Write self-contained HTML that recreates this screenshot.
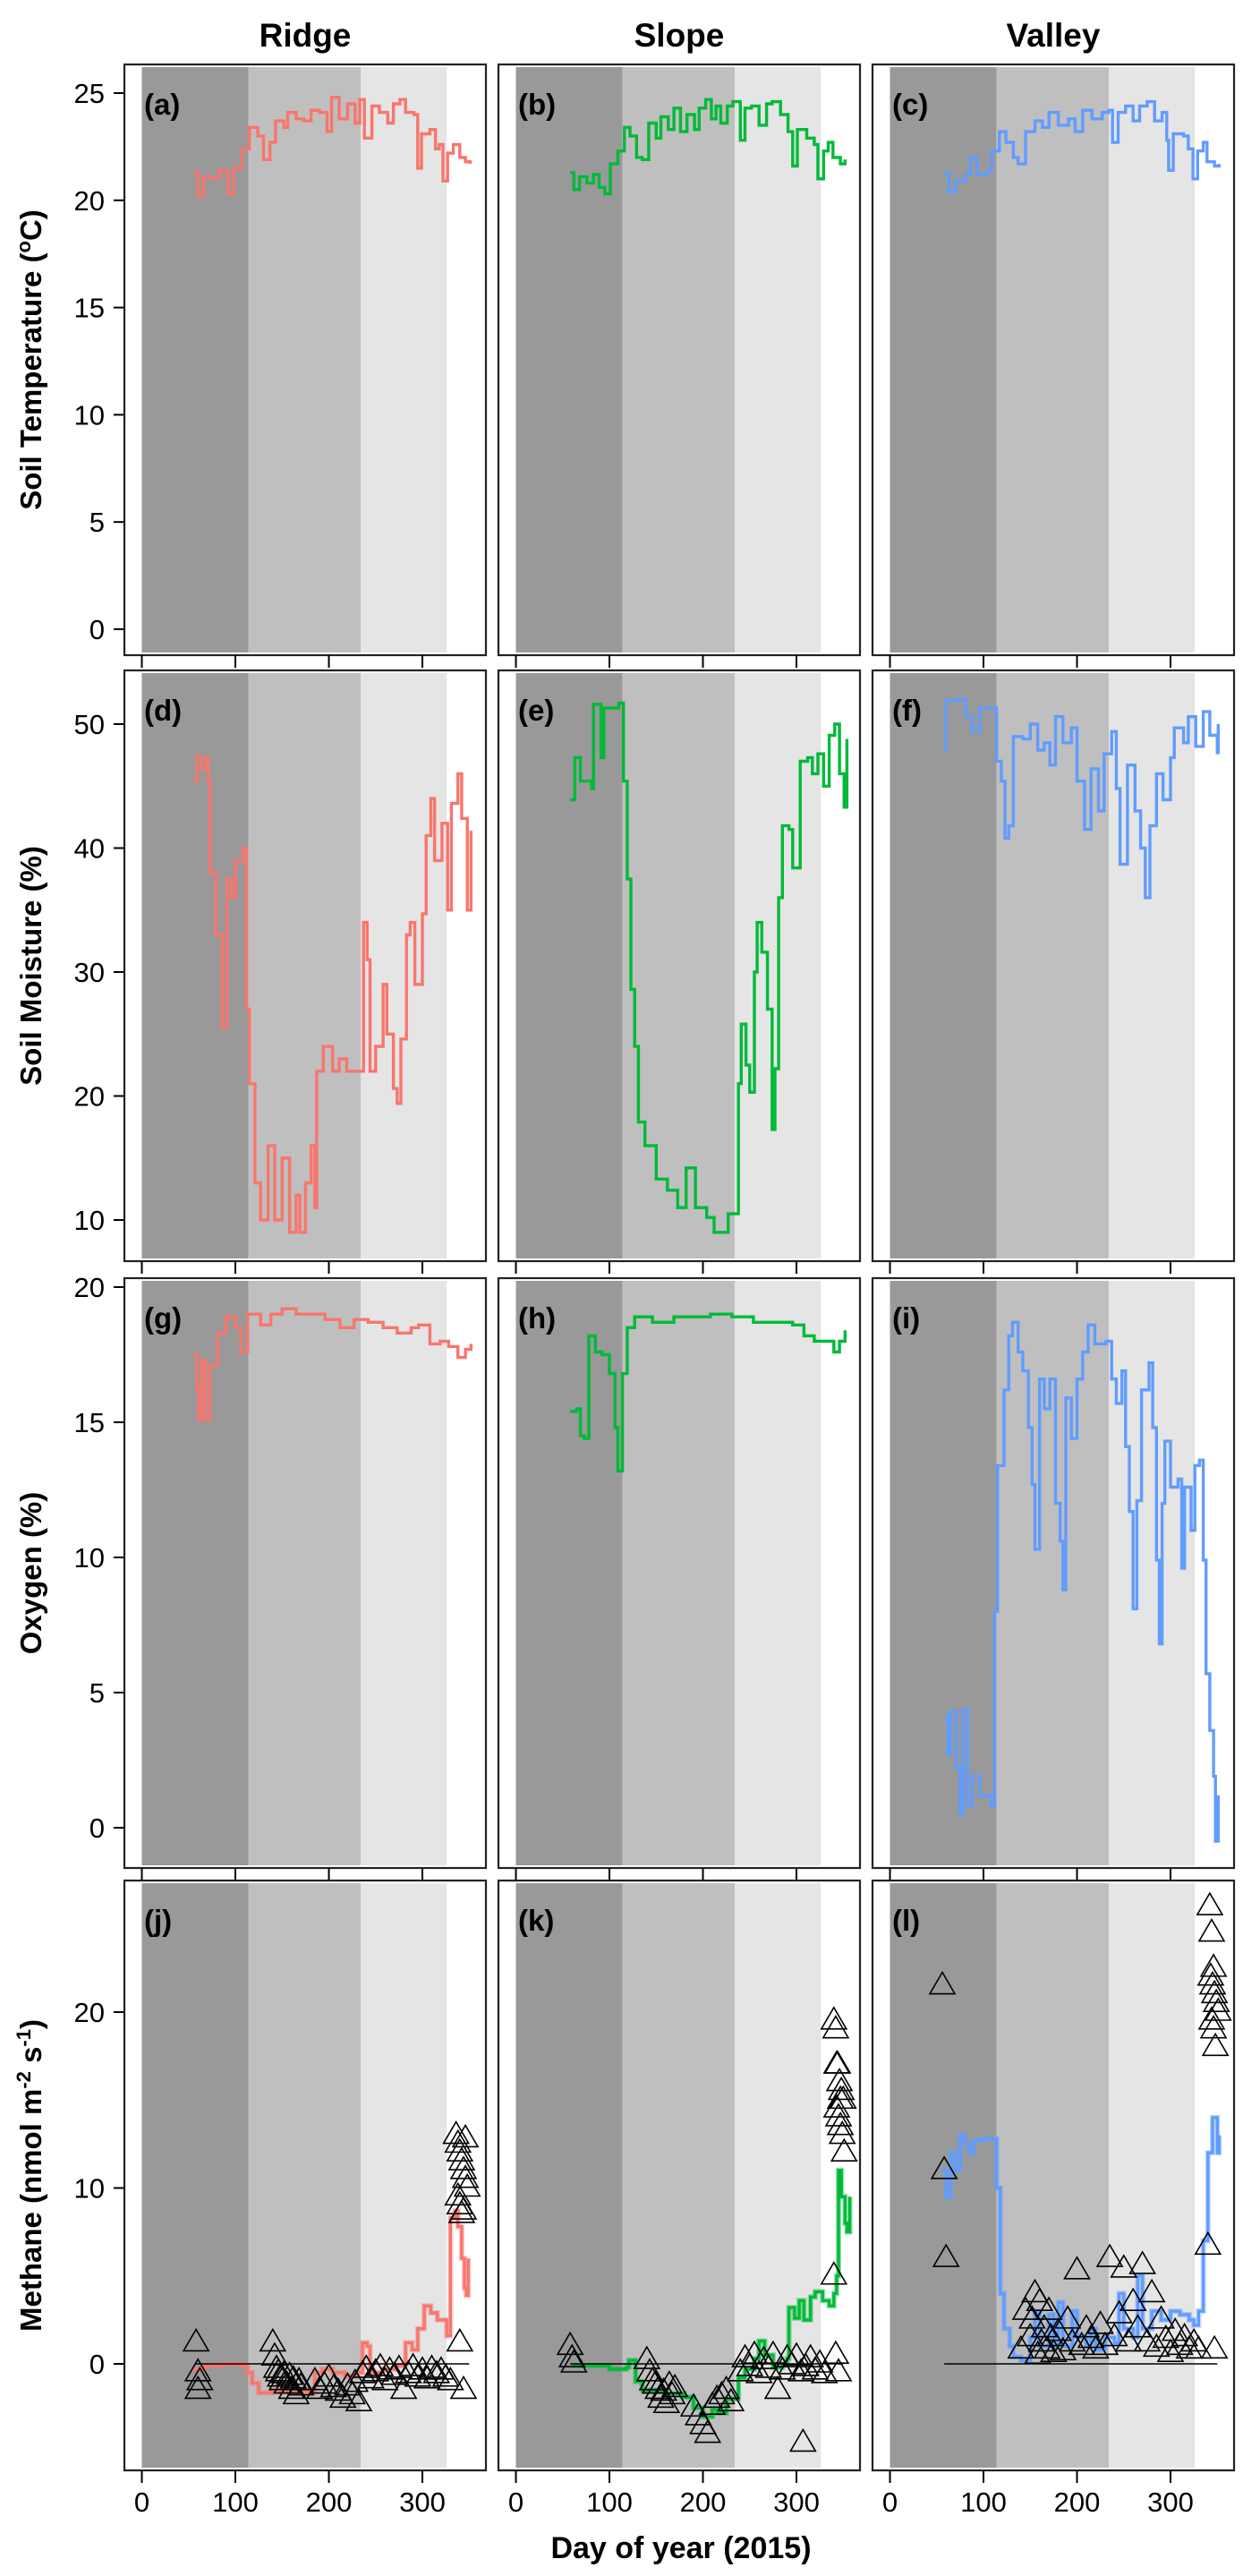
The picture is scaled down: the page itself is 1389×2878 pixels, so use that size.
<!DOCTYPE html>
<html><head><meta charset="utf-8">
<style>
html,body{margin:0;padding:0;background:#fff;}
svg{display:block;font-family:"Liberation Sans",Arial,sans-serif;}
</style></head>
<body>
<svg id="fig" width="1389" height="2878" viewBox="0 0 1389 2878" xmlns="http://www.w3.org/2000/svg"></svg>
<script>
// ---------- DATA ----------
const colTitles = ["Ridge","Slope","Valley"];
const rowTitles = ["Soil Temperature (\u00B0C)","Soil Moisture (%)","Oxygen (%)","Methane (nmol m-2 s-1)"];
const panelLetters = ["a","b","c","d","e","f","g","h","i","j","k","l"];
const xTicks = [0,100,200,300];
const seasonBreaks = [0,114,234,326];
const yTicksTemp = [0,5,10,15,20,25];
const yTicksMoist = [10,20,30,40,50];
const yTicksOxy = [0,5,10,15,20];
const yTicksMeth = [0,10,20];

// Temperature
const tempDayR = [55,60,66,75,83,92,98,107,115,124,130,137,143,152,156,165,173,181,190,198,203,211,220,228,233,238,246,254,263,269,276,282,291,295,299,308,314,318,322,327,333,340,346,351];
const tempValR = [21.3,20.2,21.1,21,21.4,20.3,21.5,22.4,23.4,23,21.9,22.7,23.7,23.4,24.1,23.8,23.7,24.2,24.1,23.2,24.8,23.8,24.5,23.6,24.7,22.9,24.4,24.1,23.6,24.5,24.7,24.1,24,21.5,23.1,23.3,22.4,22.6,20.9,22.2,22.6,22,21.8,21.7];
const tempDayS = [58,62,68,76,83,89,95,101,109,116,122,129,135,142,150,155,163,169,176,183,191,196,203,209,214,219,226,232,240,245,252,260,268,274,283,291,296,301,311,319,323,329,334,339,347,352];
const tempValS = [21.3,20.5,21.1,20.8,21.2,20.6,20.3,21.7,22.3,23.4,23,22,21.9,23.6,22.9,23.9,23.3,24.3,23.2,24,23.3,24.3,24.7,23.8,24.4,23.6,24.4,24.6,22.8,24.3,24.4,23.5,24.5,24.6,24,23.2,21.6,23.3,22.9,22.6,21,22.3,22.7,22,21.7,21.9];
const tempDayV = [57,63,70,81,86,93,104,109,117,124,132,137,145,155,163,170,180,191,198,206,216,227,234,238,244,252,260,267,275,283,291,296,298,303,314,319,324,329,335,339,347,352];
const tempValV = [21.3,20.4,20.9,21.2,22,21.2,21.4,22.3,23.2,22.7,22,21.7,23.2,23.7,23.4,24.1,23.5,23.8,23.2,24.2,23.8,24.1,24.2,22.7,24.1,24.4,23.7,24.4,24.6,23.7,24.1,22.8,21.4,23.1,23,22.4,21,22.3,22.7,21.8,21.6,21.7];

// Moisture
const moistDayR = [55,59,64,69,71,73,79,86,91,96,100,108,112,115,121,127,135,142,150,158,165,169,175,181,185,187,194,204,211,219,231,237,241,244,250,258,262,269,273,277,283,287,292,300,304,309,313,321,327,331,338,342,348,352];
const moistValR = [45.4,47.4,46.4,47.3,45.4,38,33,25.5,37.5,36,39,40,27,21,13,10,16,10,15,9,12,9,13,16,11,22,24,22,23,22,22,34,31,22,24,29,25,20.6,19.4,24.6,33,34,29,34.7,41,44,39,42,35,43.6,46,42.4,35,41.4];
const moistDayS = [58,63,69,81,83,91,94,110,115,119,123,127,131,138,150,162,173,182,192,204,212,227,235,238,241,246,250,255,258,263,269,274,277,281,285,292,296,304,312,317,323,329,335,341,346,351,354];
const moistValS = [43.9,47.3,45.4,44.8,51.6,47.3,51.3,51.7,45.4,37.5,28.6,24,17.9,16,13.3,12.4,11,14.2,11,10.2,9,10.5,10.5,21,25.8,22.5,20.3,30,34,31.6,27,17.3,22.2,36,41.8,41.5,38.4,47,47.3,46,47.6,45,49.1,50,46,43.3,48.8];
const moistDayV = [58,60,73,81,88,96,108,114,119,123,127,132,142,150,158,165,171,177,185,194,200,208,215,223,229,237,242,246,254,262,268,273,278,285,292,300,304,314,319,327,335,342,350,351];
const moistValV = [47.9,51.9,52,50.6,49.4,51.3,51.3,47,45.4,40.8,41.8,49,48.8,50,47.9,48.5,46.7,50.6,48.5,49.7,45.4,41.5,46.4,43,47.6,49.4,44.8,38.7,46.7,43,40,36,41.8,46,43.9,47.3,49.7,48.5,50.6,48.2,51,49.1,47.7,50];

// Oxygen
const oxyDayR = [55,59,61,64,68,73,81,90,100,106,113,127,138,150,165,181,196,212,227,242,258,273,288,296,308,319,328,338,346,352];
const oxyValR = [17.5,16.2,15.1,17.3,15.1,17.1,18.3,18.9,18.5,17.6,19,18.6,19,19.2,19,19,18.8,18.5,18.8,18.7,18.5,18.3,18.5,18.6,17.9,18,17.8,17.4,17.7,17.9];
const oxyDayS = [58,65,69,73,78,85,92,100,106,109,114,119,127,146,169,192,208,231,254,277,296,308,319,331,340,346,352];
const oxyValS = [15.4,15.5,14.5,14.4,18.2,17.6,17.5,16.8,14.8,13.2,16.8,18.5,18.9,18.7,18.9,18.9,19,18.9,18.7,18.7,18.6,18.2,18,18,17.6,18,18.4];
const oxyDayV = [58,62,65,71,75,78,83,88,96,108,112,115,122,127,131,137,142,148,152,155,160,165,171,177,182,185,188,194,200,206,212,219,231,237,242,248,252,256,260,264,269,277,281,285,288,291,294,300,308,312,315,322,326,331,335,338,342,346,348,351];
const oxyValV = [4.1,2.7,4.3,2.2,0.5,4.4,0.8,1.9,1.2,0.8,8,13.4,16.2,18.2,18.7,17.6,16.9,14.8,12.7,10.3,16.6,15.5,16.6,12,10.6,8.8,15.9,14.4,16.6,17.6,18.6,17.9,18,16.6,15.7,16.9,14.1,11.7,8.1,12.1,16.2,17.2,14.8,9.9,6.8,12,14.3,12.6,12.9,9.6,12.6,11,13.4,13.6,9.9,5.7,3.6,1.9,-0.5,1.2];

// Methane modelled lines
const methDayR = [55,67,87,108,113,118,125,139,149,163,176,185,193,204,217,231,236,241,244,258,272,282,289,295,302,309,316,326,330,335,338,342,345,347,349];
const methValR = [-0.3,-0.1,0,-0.1,-0.5,-1.1,-1.65,-1.5,-1.6,-1.5,-1.6,-0.5,-0.3,-0.5,-0.7,-0.5,1.2,1,-0.5,-0.3,-0.1,1.2,0.8,2,3.3,2.9,2.5,1.6,8.3,8.7,7.8,6,4.3,3.9,6];
const methDayS = [60,100,118,121,128,135,160,180,190,200,210,215,225,238,245,255,260,266,275,285,290,292,298,303,308,315,320,328,335,340,343,345,348,352,354,357];
const methValS = [-0.1,-0.3,-0.2,0.2,-1,-1.5,-1.7,-1.9,-2.5,-3,-2.6,-2.8,-2,-0.8,-0.3,0.3,1.3,0.5,-0.2,0,0.3,3.2,2.6,3.6,2.5,3.8,4.1,3.6,3.3,4,5,11,9.5,8,7.5,9.5];
const methDayV = [55,60,65,70,75,80,85,90,100,110,114,118,122,128,132,140,150,155,160,170,175,180,185,195,200,210,215,220,230,240,245,250,260,265,270,280,290,300,310,320,325,330,335,340,345,350,352];
const methValV = [11,9.5,12,11,13,12.5,12,12.7,12.8,12.8,10,4,2,1,0.4,0.2,1.5,3,1,2.8,1,3.5,1,3,1.5,1,2,0.8,1.5,1.2,4,2,1.5,5,2,3,2.5,3,2.8,2.5,2.2,3,7,12,14,12,13];

// Methane observations (chamber)
const obsDayR = [58,60,62,60,140,142,144,146,148,150,152,155,158,160,162,165,168,170,185,190,195,200,205,210,215,220,225,228,232,236,240,245,250,255,260,265,270,275,280,285,290,295,300,305,310,315,320,325,330,336,338,340,342,344,346,348,338,340,342,344,346,340,344];
const obsValR = [1.2,-0.5,-1,-1.5,1.2,0.4,-0.3,-0.5,-0.8,-1,-0.6,-1.2,-0.7,-1.5,-0.9,-1.8,-1,-1.3,-1,-1.5,-1.2,-0.8,-1.4,-1.6,-2,-1.3,-1.8,-1.1,-2.2,-0.6,-0.3,-0.9,-0.5,-0.2,-1,-0.4,-0.7,-0.3,-1.5,-0.6,-0.2,-0.8,-0.4,-0.9,-0.3,-0.6,-0.4,-0.8,-1,13,12.5,12,11.5,11,10.5,10,9.5,9,8.5,8.7,12.8,1.2,-1.5];
const obsDayS = [58,60,62,140,143,146,149,152,155,158,161,164,167,170,190,195,200,205,210,215,220,225,230,240,245,250,255,260,265,270,275,280,285,290,295,300,305,310,315,320,325,330,307,340,342,344,346,348,350,343,345,347,349,351,343,347,340,342,345];
const obsValS = [1,0.3,0,0.2,-0.5,-1,-1.2,-1.5,-2,-1.6,-2.3,-1.2,-1.8,-1.4,-2.5,-3,-3.5,-4,-2.4,-2,-1.8,-1.5,-2.2,-0.5,0.3,-0.2,0.5,-0.6,0.2,-0.3,0.5,-1.5,-0.4,0.3,-0.1,0.4,-0.5,-0.2,0.3,-0.4,0,-0.6,-4.5,19.5,19,17,16,15.5,15,14.5,14,13.5,13,12,17,15,5,0.5,-0.5];
const obsDayV = [56,58,60,140,145,150,152,155,158,160,162,165,168,170,172,175,180,185,190,195,200,205,210,215,220,225,230,235,240,245,250,255,260,265,270,275,280,285,290,295,300,305,310,315,320,325,330,342,344,346,343,345,347,349,351,344,346,348,340,347];
const obsValV = [21.5,11,6,0.8,3,1.5,2.5,4,0.5,3.5,1.2,2,0.8,3,1.5,0.6,1.8,0.7,2.5,1.2,5.3,1,2,1.4,0.8,2.2,1,6,1.5,2.8,5.4,1.2,3.5,2,5.6,1.2,4,0.9,2.5,1.4,0.6,1.8,1,1.5,0.8,1.2,0.8,26,24.5,22.5,22,21.5,21,20.5,20,19.5,19,18,6.7,0.8];

// ---------- DRAW ----------
const NS = "http://www.w3.org/2000/svg";
const svg = document.getElementById("fig");
function mk(tag, attrs, parent){
  const e = document.createElementNS(NS, tag);
  for (const k in attrs) e.setAttribute(k, attrs[k]);
  (parent||svg).appendChild(e);
  return e;
}
const colLeft = [139,557,975];
const panelW = 404;
const rowTop = [72,749,1428,2101];
const rowBot = [732,1409,2087,2760];
const xScale = 1.045, xOff = 19.5;
const yAnchors = [[25,104,0,703],[50,809,10,1363],[20,1438,0,2042],[20,2248,0,2641]];
const yTickSets = [yTicksTemp,yTicksMoist,yTicksOxy,yTicksMeth];
function xf(c,d){ return colLeft[c] + xOff + d*xScale; }
function yf(r,v){ const a=yAnchors[r]; return a[3] + (v-a[2])*(a[1]-a[3])/(a[0]-a[2]); }
const colors = ["#F8766D","#00BA38","#619CFF"];
const shadeCols = ["#999999","#bfbfbf","#e5e5e5"];
const lineData = [
  [[tempDayR,tempValR],[tempDayS,tempValS],[tempDayV,tempValV]],
  [[moistDayR,moistValR],[moistDayS,moistValS],[moistDayV,moistValV]],
  [[oxyDayR,oxyValR],[oxyDayS,oxyValS],[oxyDayV,oxyValV]],
  [[methDayR,methValR],[methDayS,methValS],[methDayV,methValV]]
];
const obsData = [[obsDayR,obsValR],[obsDayS,obsValS],[obsDayV,obsValV]];
const seriesNames = ["temperature","moisture","oxygen","methane"];
const siteNames = ["ridge","slope","valley"];
function stepPoints(c,r,ds,vs){
  const out=[];
  for (let i=0;i<ds.length;i++){
    const x=xf(c,ds[i]).toFixed(1), y=yf(r,vs[i]).toFixed(1);
    if (i>0){ out.push(x+","+yf(r,vs[i-1]).toFixed(1)); }
    out.push(x+","+y);
  }
  return out.join(" ");
}

for (let c=0;c<3;c++){
  const t = mk("text",{x:colLeft[c]+panelW/2, y:52, "text-anchor":"middle","font-size":"37","font-weight":"bold"});
  
  
  t.textContent = colTitles[c];
}

for (let r=0;r<4;r++){
  const cy = (rowTop[r]+rowBot[r])/2;
  const yt = mk("text",{x:0,y:0,transform:"translate(46,"+cy+") rotate(-90)","text-anchor":"middle","font-size":"33","font-weight":"bold"});
  
  
  if (r===0){
    yt.innerHTML = 'Soil Temperature (<tspan baseline-shift="super" font-size="22">o</tspan>C)';
  } else if (r===3){
    yt.innerHTML = 'Methane (nmol m<tspan baseline-shift="super" font-size="22">-2</tspan> s<tspan baseline-shift="super" font-size="22">-1</tspan>)';
  } else {
    yt.textContent = rowTitles[r];
  }
  for (const v of yTickSets[r]){
    const y = yf(r,v);
    const tk = mk("line",{x1:127,x2:139,y1:y,y2:y,stroke:"#000","stroke-width":"2"});
    
    
    const tl = mk("text",{x:117,y:y+11,"text-anchor":"end","font-size":"31"});
    
    
    tl.textContent = v;
  }
  for (let c=0;c<3;c++){
    const idx = r*3+c;
    const g = mk("g",{});
    
    
    const cp = mk("clipPath",{id:"cp"+idx},g);
    mk("rect",{x:colLeft[c],y:rowTop[r],width:panelW,height:rowBot[r]-rowTop[r]},cp);
    for (let s=0;s<3;s++){
      const x1 = xf(c,seasonBreaks[s]), x2 = xf(c,seasonBreaks[s+1]);
      const sh = mk("rect",{x:x1,y:rowTop[r]+3,width:x2-x1,height:rowBot[r]-rowTop[r]-6,fill:shadeCols[s]},g);
      
      
    }
    const [ds,vs] = lineData[r][c];
    const pts = stepPoints(c,r,ds,vs);
    if (r===3){
      const rib = mk("polyline",{points:pts,fill:"none",stroke:colors[c],"stroke-opacity":"0.4","stroke-width":"6","clip-path":"url(#cp"+idx+")"},g);
      
      
    }
    const pl = mk("polyline",{points:pts,fill:"none",stroke:colors[c],"stroke-width":"3.4","clip-path":"url(#cp"+idx+")"},g);
    
    
    if (r===3){
      const zl = mk("line",{x1:xf(c,58),x2:xf(c,350),y1:yf(r,0),y2:yf(r,0),stroke:"#000","stroke-width":"1.6"},g);
      
      
      const [od,ov] = obsData[c];
      for (let i=0;i<od.length;i++){
        const x = xf(c,od[i]), y = yf(r,ov[i]);
        const tr = mk("polygon",{points:(x-14)+","+(y+9)+" "+(x+14)+","+(y+9)+" "+x+","+(y-15),fill:"none",stroke:"#000","stroke-width":"1.6"},g);
        
        
      }
    }
    const fr = mk("rect",{x:colLeft[c],y:rowTop[r],width:panelW,height:rowBot[r]-rowTop[r],fill:"none",stroke:"#222","stroke-width":"2.2"},g);
    
    
    const lb = mk("text",{x:colLeft[c]+22,y:rowTop[r]+56,"font-size":"33","font-weight":"bold"},g);
    
    
    lb.textContent = "("+panelLetters[idx]+")";
    for (const d of xTicks){
      const x = xf(c,d);
      const xt = mk("line",{x1:x,x2:x,y1:rowBot[r],y2:rowBot[r]+14,stroke:"#000","stroke-width":"2"},g);
      
      
      if (r===3){
        const xl = mk("text",{x:x,y:2806,"text-anchor":"middle","font-size":"31"},g);
        
        
        xl.textContent = d;
      }
    }
  }
}
const xTitle = mk("text",{x:761,y:2858,"text-anchor":"middle","font-size":"34","font-weight":"bold"});


xTitle.textContent = "Day of year (2015)";
</script>
</body></html>
